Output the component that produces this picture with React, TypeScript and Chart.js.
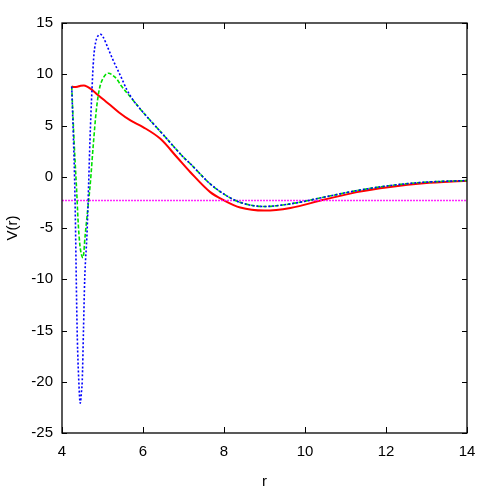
import { useEffect, useRef } from 'react';
import { Chart, registerables } from 'chart.js';

Chart.register(...registerables);

const xTickValues = [4, 6, 8, 10, 12, 14];
const yTickValues = [-25, -20, -15, -10, -5, 0, 5, 10, 15];

const redR = [4.24, 4.3, 4.38, 4.46, 4.54, 4.62, 4.7, 4.78, 4.88, 5.0, 5.19, 5.4, 5.69, 6.0, 6.43, 6.84, 7.17, 7.66, 8.0, 8.4, 9.0, 9.64, 10.46, 11.28, 12.1, 12.93, 14.0];
const redV = [8.8, 8.75, 8.78, 8.88, 8.9, 8.8, 8.6, 8.35, 8.0, 7.6, 7.0, 6.3, 5.5, 4.85, 3.7, 1.9, 0.44, -1.5, -2.3, -3.0, -3.3, -3.04, -2.25, -1.5, -1.0, -0.64, -0.4];

const greenR = [4.24, 4.27, 4.3, 4.33, 4.36, 4.4, 4.44, 4.48, 4.52, 4.57, 4.63, 4.7, 4.77, 4.85, 4.92, 5.0, 5.15, 5.25, 5.36, 5.44, 5.6, 5.77, 6.0, 6.5, 7.0, 7.17, 7.66, 7.99, 8.4, 8.98, 9.64, 10.46, 11.28, 12.1, 12.93, 14.0];
const greenV = [8.8, 6.0, 3.3, 1.0, -1.2, -4.5, -6.6, -7.6, -7.9, -5.8, -3.4, -0.6, 3.0, 6.6, 8.5, 9.5, 10.1, 9.9, 9.5, 9.0, 8.2, 7.4, 6.3, 4.1, 1.9, 1.26, -0.7, -1.67, -2.5, -2.9, -2.65, -2.0, -1.35, -0.86, -0.54, -0.37];

const blueR = [4.24, 4.28, 4.31, 4.33, 4.345, 4.36, 4.38, 4.41, 4.45, 4.48, 4.5, 4.53, 4.56, 4.62, 4.66, 4.69, 4.74, 4.78, 4.83, 4.9, 4.95, 5.02, 5.12, 5.27, 5.45, 5.6, 5.77, 6.0, 6.5, 7.0, 7.17, 7.66, 7.99, 8.4, 8.98, 9.64, 10.46, 11.28, 12.1, 12.93, 14.0];
const blueV = [8.8, 4.0, 0.0, -4.0, -8.0, -12.0, -16.0, -19.5, -22.1, -21.0, -19.9, -15.0, -10.1, -5.3, -0.4, 3.5, 8.5, 11.5, 13.1, 13.8, 13.9, 13.6, 12.7, 11.3, 9.8, 8.5, 7.4, 6.3, 4.1, 1.9, 1.26, -0.7, -1.67, -2.5, -2.9, -2.65, -2.0, -1.35, -0.86, -0.54, -0.37];

const levelR = [4, 14];
const levelV = [-2.32, -2.32];

const toPoints = (xs: number[], ys: number[]) => xs.map((x, i) => ({ x, y: ys[i] }));

const FONT = { family: '"Liberation Sans", Arial, sans-serif', size: 15 };

const framePlugin = {
  id: 'frame',
  afterDatasetsDraw(chart: any) {
    const { ctx, chartArea } = chart;
    const { left, right, top, bottom } = chartArea;
    const xs = chart.scales.x;
    const ys = chart.scales.y;
    ctx.save();
    ctx.strokeStyle = '#000';
    ctx.lineWidth = 1;
    ctx.beginPath();
    xTickValues.forEach((v) => {
      const px = Math.round(xs.getPixelForValue(v)) + 0.5;
      ctx.moveTo(px, bottom);
      ctx.lineTo(px, bottom - 6);
      ctx.moveTo(px, top);
      ctx.lineTo(px, top + 6);
    });
    yTickValues.forEach((v) => {
      const py = Math.round(ys.getPixelForValue(v)) + 0.5;
      ctx.moveTo(left, py);
      ctx.lineTo(left + 5, py);
      ctx.moveTo(right, py);
      ctx.lineTo(right - 5, py);
    });
    ctx.stroke();
    ctx.lineWidth = 1.3;
    ctx.strokeRect(left, top, right - left, bottom - top);
    ctx.restore();
  },
};

export default function App() {
  const ref = useRef<HTMLCanvasElement>(null);
  useEffect(() => {
    document.body.style.margin = '0';
    const chart = new Chart(ref.current as HTMLCanvasElement, {
      type: 'line',
      data: {
        datasets: [
          {
            data: toPoints(redR, redV),
            borderColor: '#ff0000',
            borderWidth: 2,
            order: 4,
          },
          {
            data: toPoints(levelR, levelV),
            borderColor: 'rgba(255,0,255,0.85)',
            borderWidth: 1.5,
            borderDash: [2, 1],
            order: 3,
          },
          {
            data: toPoints(greenR, greenV),
            borderColor: '#00e000',
            borderWidth: 1.6,
            borderDash: [4, 2],
            order: 2,
          },
          {
            data: toPoints(blueR, blueV),
            borderColor: '#0000ff',
            borderWidth: 1.6,
            borderDash: [2, 2],
            order: 1,
          },
        ] as any,
      },
      options: {
        responsive: false,
        animation: false,
        devicePixelRatio: 1,
        layout: { padding: { top: 23, right: 24, left: 0, bottom: 0 } },
        elements: {
          point: { radius: 0 },
          line: { cubicInterpolationMode: 'monotone', fill: false },
        },
        plugins: { legend: { display: false }, tooltip: { enabled: false } },
        scales: {
          x: {
            type: 'linear',
            min: 4,
            max: 14,
            afterBuildTicks: (s: any) => {
              s.ticks = xTickValues.map((v) => ({ value: v }));
            },
            afterFit: (s: any) => {
              s.height = 58;
            },
            grid: { display: false, drawTicks: false },
            border: { display: false },
            ticks: { color: '#000', font: FONT, padding: 10, maxRotation: 0 },
            title: { display: true, text: 'r', color: '#000', font: FONT, padding: { top: 4, bottom: 0 } },
          },
          y: {
            type: 'linear',
            min: -25,
            max: 15,
            afterBuildTicks: (s: any) => {
              s.ticks = yTickValues.map((v) => ({ value: v }));
            },
            afterFit: (s: any) => {
              s.width = 62;
            },
            grid: { display: false, drawTicks: false },
            border: { display: false },
            ticks: { color: '#000', font: FONT, padding: 9 },
            title: { display: true, text: 'V(r)', color: '#000', font: FONT, padding: { top: 4, bottom: 4 } },
          },
        },
      } as any,
      plugins: [framePlugin],
    });
    return () => chart.destroy();
  }, []);
  return <canvas ref={ref} width={491} height={491} style={{ display: 'block', width: 491, height: 491 }} />;
}
